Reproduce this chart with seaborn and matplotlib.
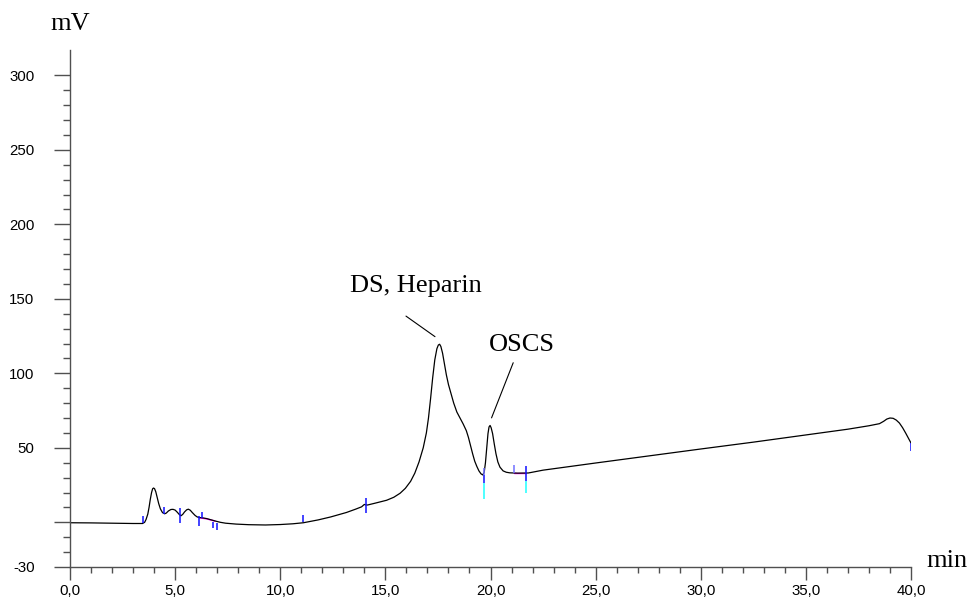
import numpy as np
import pandas as pd
import matplotlib
matplotlib.use("Agg")
import matplotlib.pyplot as plt
from matplotlib.ticker import FixedLocator, MultipleLocator
import seaborn as sns

# Chromatogram trace: retention time (min) and detector signal (mV)
time_min = [0.0, 1.0, 2.0, 3.0, 3.45, 3.55, 3.62, 3.7, 3.76, 3.82, 3.88, 3.93,
            3.97, 4.02, 4.08, 4.15, 4.22, 4.3, 4.4, 4.5, 4.58, 4.68, 4.8, 4.9,
            5.0, 5.1, 5.2, 5.28, 5.36, 5.45, 5.55, 5.63, 5.72, 5.82, 5.95, 6.05,
            6.15, 6.3, 6.5, 6.7, 6.9, 7.15, 7.4, 7.9, 8.5, 9.3, 10.0, 10.6, 11.1,
            11.8, 12.4, 13.15, 13.6, 13.87, 13.95, 14.0, 14.06, 14.15, 14.5,
            15.06, 15.4, 15.7, 15.95, 16.2, 16.4, 16.6, 16.8, 16.95, 17.05,
            17.15, 17.25, 17.35, 17.45, 17.52, 17.58, 17.64, 17.72, 17.8, 17.9,
            18.0, 18.1, 18.25, 18.4, 18.55, 18.7, 18.85, 18.95, 19.05, 19.15,
            19.25, 19.35, 19.45, 19.55, 19.63, 19.7, 19.76, 19.82, 19.88, 19.93,
            19.98, 20.03, 20.1, 20.18, 20.26, 20.35, 20.45, 20.6, 20.75, 20.92,
            21.3, 21.8, 22.5, 25.0, 27.5, 30.0, 32.5, 35.0, 37.0, 38.0, 38.5,
            38.7, 38.85, 39.0, 39.15, 39.3, 39.45, 39.6, 39.75, 39.9, 40.0]
signal_mv = [-0.3, -0.4, -0.6, -0.8, -0.8, 0.0, 2.0, 5.5, 10.0, 15.5, 20.0, 22.5,
             23.0, 22.6, 20.5, 16.5, 12.5, 9.0, 6.5, 5.7, 6.2, 7.6, 8.6, 8.7,
             8.2, 6.8, 5.2, 4.4, 5.3, 7.0, 8.4, 8.8, 8.1, 6.5, 4.6, 3.6,
             3.2, 3.0, 2.5, 1.7, 0.9, 0.0, -0.6, -1.2, -1.6, -1.8, -1.5, -1.0, -0.3,
             1.6, 3.6, 6.6, 8.9, 10.4, 11.4, 12.0, 11.7, 11.6, 12.8,
             14.8, 16.8, 19.5, 22.8, 27.5, 33.0, 40.5, 50.0, 60.0, 70.0,
             83.0, 97.0, 109.0, 116.5, 119.0, 119.5, 118.0, 113.5, 107.0, 99.0,
             92.5, 87.5, 80.0, 74.0, 70.0, 66.0, 61.5, 57.0, 51.5, 46.0,
             41.0, 37.5, 34.5, 32.5, 31.8, 33.5, 40.0, 50.0, 59.5, 64.0,
             65.0, 63.5, 59.5, 52.5, 46.0, 40.5, 37.0, 34.5, 33.6, 33.2,
             33.0, 33.1, 35.0, 39.8, 44.5, 49.2, 53.8, 58.6, 62.5, 64.8, 66.2,
             67.8, 69.3, 70.0, 69.8, 68.6, 66.6, 63.5, 59.8, 55.8, 53.2]

# Integration event marks (time, lower mV, upper mV)
event_t = [3.48, 4.48, 5.25, 6.15, 6.26, 6.82, 6.98, 11.1, 14.1, 19.7, 21.71, 40.0]
event_lo = [-0.6, 5.7, -0.6, -2.4, 2.8, -4.0, -5.1, 0.0, 6.0, 26.3, 27.4, 47.6]
event_hi = [4.5, 10.6, 9.5, 3.9, 7.2, 0.5, -0.6, 5.0, 16.0, 31.9, 38.0, 53.2]
start_t = [19.7, 21.11]
start_lo = [31.9, 33.1]
start_hi = [36.4, 38.6]
drop_t = [19.7, 21.71]
drop_lo = [15.6, 19.6]
drop_hi = [26.3, 27.4]
# Drawn baselines between integration marks
base_t = [[6.15, 6.5, 6.9], [21.11, 21.71]]
base_mv = [[3.0, 2.3, 0.8], [33.1, 33.1]]

x_major = [0, 5, 10, 15, 20, 25, 30, 35, 40]
x_labels = ["0,0", "5,0", "10,0", "15,0", "20,0", "25,0", "30,0", "35,0", "40,0"]
y_major = [-30, 0, 50, 100, 150, 200, 250, 300]
y_labels = ["-30", "", "50", "100", "150", "200", "250", "300"]

sns.set_theme(style="ticks")
plt.rcParams["font.family"] = ["Liberation Sans", "DejaVu Sans"]
plt.rcParams["text.color"] = "black"

fig = plt.figure(figsize=(9.75, 5.98), dpi=100)
ax = fig.add_axes([70 / 975, 31 / 598, 841 / 975, 517 / 598])

trace = pd.DataFrame({"time": time_min, "mV": signal_mv})
sns.lineplot(data=trace, x="time", y="mV", color="black", linewidth=0.9,
             estimator=None, sort=False, ax=ax)

for bt, bm in zip(base_t, base_mv):
    ax.plot(bt, bm, color="#ff00ff", linewidth=1.0, zorder=1)
ax.vlines(drop_t, drop_lo, drop_hi, color="#40ffff", linewidth=1.3, zorder=3)
ax.vlines(event_t, event_lo, event_hi, color="#1010ff", linewidth=1.1, zorder=3)
ax.vlines(start_t, start_lo, start_hi, color="#7070ff", linewidth=1.1, zorder=3)

ax.set_xlim(0, 40)
ax.set_ylim(-30, 317)
ax.set_xlabel("")
ax.set_ylabel("")

ax.xaxis.set_major_locator(FixedLocator(x_major))
ax.set_xticklabels(x_labels)
ax.xaxis.set_minor_locator(MultipleLocator(1))
ax.yaxis.set_major_locator(FixedLocator(y_major))
ax.set_yticklabels(y_labels)
ax.yaxis.set_minor_locator(FixedLocator(list(range(-20, 300, 10))))

spine_c = "#505050"
for side in ["top", "right"]:
    ax.spines[side].set_visible(False)
for side in ["left", "bottom"]:
    ax.spines[side].set_color(spine_c)
    ax.spines[side].set_linewidth(1.0)

ax.tick_params(axis="x", which="major", direction="out", length=9, width=1.0,
               color=spine_c, labelsize=10.8, labelcolor="black", pad=3)
ax.tick_params(axis="x", which="minor", direction="out", length=4.5, width=1.0,
               color=spine_c)
ax.tick_params(axis="y", which="major", direction="out", length=11.5, width=1.0,
               color=spine_c, labelsize=10.8, labelcolor="black", pad=14)
ax.tick_params(axis="y", which="minor", direction="out", length=5, width=1.0,
               color=spine_c)

serif = ["Liberation Serif", "DejaVu Serif"]
ax.text(16.45, 154.6, "DS, Heparin", family=serif, fontsize=19, color="black",
        ha="center", va="baseline")
ax.plot([15.98, 17.36], [138.4, 124.6], color="black", linewidth=0.8)
ax.text(21.48, 114.9, "OSCS", family=serif, fontsize=19, color="black",
        ha="center", va="baseline")
ax.plot([21.08, 20.05], [107.1, 70.1], color="black", linewidth=0.8)

fig.text(70 / 975, (598 - 30) / 598, "mV", family=serif, fontsize=19,
         color="black", ha="center", va="baseline")
fig.text(926.7 / 975, (598 - 567.3) / 598, "min", family=serif, fontsize=19,
         color="black", ha="left", va="baseline")

fig.savefig("out.png", dpi=100)
